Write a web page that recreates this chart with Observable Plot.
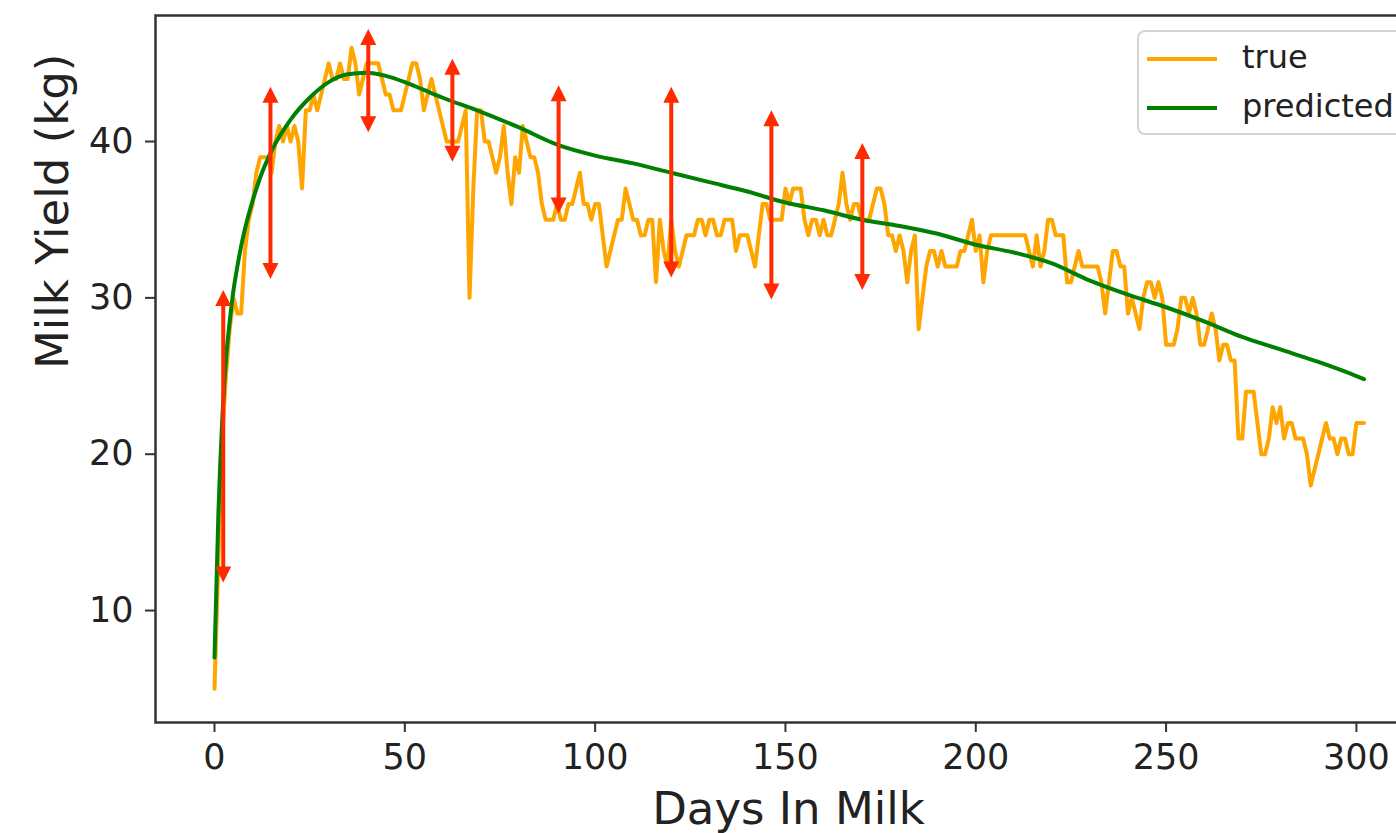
<!DOCTYPE html>
<html>
<head>
<meta charset="utf-8">
<script src="https://cdn.jsdelivr.net/npm/d3@7"></script>
<script src="https://cdn.jsdelivr.net/npm/@observablehq/plot@0.6"></script>
<style>
  html, body { margin: 0; padding: 0; background: #fff; overflow: hidden; }
  #wrap { position: relative; width: 1396px; height: 833px; overflow: hidden; font-family: "DejaVu Sans", sans-serif; }
  #wrap svg { max-width: none !important; display: block; }
  .legend { position: absolute; left: 1137px; top: 30px; width: 300px; height: 101px;
            border: 2px solid #d4d4d4; border-radius: 8px; background: rgba(255,255,255,0.85); }
  .legend .sw { position: absolute; left: 8px; width: 70px; height: 4px; }
  .legend .lb { position: absolute; left: 103px; font-size: 32px; color: #222; line-height: 1; white-space: nowrap; }
</style>
</head>
<body>
<div id="wrap"></div>
<script>
// Daily milk yield (kg) for days in milk 0..302
const trueYield = [
  5, 13, 21, 25, 28, 30, 29, 29, 33, 35,
  36, 38, 39, 39, 39, 38, 40, 41, 40, 41,
  40, 41, 40, 37, 42, 42, 43, 42, 43, 44,
  45, 44, 44, 45, 44, 44, 46, 45, 43, 44,
  45, 45, 45, 45, 44, 43, 43, 42, 42, 42,
  43, 44, 45, 45, 44, 42, 43, 44, 43, 42,
  41, 40, 40, 40, 40, 41, 42, 30, 37, 42,
  42, 40, 40, 39, 38, 39, 41, 38, 36, 39,
  38, 41, 40, 39, 39, 38, 36, 35, 35, 35,
  36, 35, 35, 36, 36, 37, 38, 36, 36, 35,
  36, 36, 34, 32, 33, 34, 35, 35, 37, 36,
  35, 35, 34, 34, 35, 35, 31, 35, 33, 32,
  35, 33, 32, 33, 34, 34, 34, 35, 35, 34,
  35, 35, 34, 34, 35, 35, 35, 33, 34, 34,
  34, 33, 32, 34, 36, 36, 35, 35, 35, 35,
  37, 36, 37, 37, 37, 35, 34, 35, 35, 34,
  35, 34, 34, 35, 36, 38, 36, 35, 36, 36,
  35, 35, 35, 36, 37, 37, 36, 34, 34, 33,
  34, 33, 31, 33, 34, 28, 30, 32, 33, 33,
  32, 33, 32, 32, 32, 32, 33, 33, 34, 35,
  33, 34, 31, 33, 34, 34, 34, 34, 34, 34,
  34, 34, 34, 34, 33, 32, 34, 32, 33, 35,
  35, 34, 34, 34, 31, 31, 32, 33, 32, 32,
  32, 32, 32, 31, 29, 31, 33, 33, 32, 32,
  29, 30, 29, 28, 30, 31, 31, 30, 31, 30,
  27, 27, 27, 28, 30, 30, 29, 30, 29, 27,
  27, 28, 29, 28, 26, 27, 27, 26, 26, 21,
  21, 24, 24, 24, 22, 20, 20, 21, 23, 22,
  23, 21, 22, 22, 21, 21, 21, 20, 18, 19,
  20, 21, 22, 21, 21, 20, 21, 21, 20, 20,
  22, 22, 22
];

// Model prediction, sampled along the lactation
const predDays  = [0, 1, 2, 3, 4, 5, 6, 7, 8, 10, 12, 15, 20, 25, 30, 35, 40, 45, 50, 55, 60, 70, 80, 90, 100, 110, 120, 130, 140, 150, 160, 170, 180, 190, 200, 210, 220, 230, 240, 250, 260, 270, 280, 290, 300, 302];
const predYield = [7, 16, 22, 26, 28.5, 30.5, 32, 33.3, 34.4, 36.2, 37.7, 39.4, 41.4, 42.8, 43.8, 44.3, 44.4, 44.2, 43.8, 43.3, 42.8, 41.9, 40.9, 39.8, 39.1, 38.6, 38.0, 37.4, 36.8, 36.1, 35.6, 35.0, 34.6, 34.1, 33.4, 32.9, 32.2, 31.1, 30.2, 29.4, 28.5, 27.5, 26.7, 25.9, 25.0, 24.8];

// Double-headed red arrows: day, lower end, upper end
const arrowDays   = [2.3, 14.7, 40.4, 62.5, 90.4, 120, 146.3, 170.2];
const arrowBottom = [11.8, 31.2, 40.6, 38.7, 35.4, 31.3, 29.9, 30.5];
const arrowTop    = [30.5, 43.5, 47.2, 45.3, 43.6, 43.5, 42.0, 39.9];

const xTicks = [0, 50, 100, 150, 200, 250, 300];
const yTicks = [10, 20, 30, 40];

const seriesNames = ["true", "predicted"];
const seriesColors = ["orange", "green"];
const arrowColor = "#ff2a00";

const trueData = trueYield.map((v, i) => ({day: i, value: v}));
const predData = predDays.map((d, i) => ({day: d, value: predYield[i]}));
const arrows = arrowDays.map((d, i) => ({day: d, lo: arrowBottom[i], hi: arrowTop[i]}));

// Filled arrowheads with the tip at the symbol origin
const upHead = {draw(ctx) { ctx.moveTo(0, 0); ctx.lineTo(8, 16); ctx.lineTo(-8, 16); ctx.closePath(); }};
const downHead = {draw(ctx) { ctx.moveTo(0, 0); ctx.lineTo(8, -16); ctx.lineTo(-8, -16); ctx.closePath(); }};

const chart = Plot.plot({
  width: 1440,
  height: 833,
  marginLeft: 155,
  marginRight: 19,
  marginTop: 15,
  marginBottom: 111,
  style: {fontFamily: "DejaVu Sans, sans-serif", color: "#222", background: "transparent", maxWidth: "none"},
  x: {domain: [-15.5, 317.1]},
  y: {domain: [2.84, 48.06]},
  marks: [
    Plot.axisX({ticks: xTicks, tickSize: 10, tickPadding: 12, fontSize: 35, label: null, strokeWidth: 2, stroke: "#333"}),
    Plot.axisY({ticks: yTicks, tickSize: 10, tickPadding: 12, fontSize: 35, label: null, strokeWidth: 2, stroke: "#333"}),
    Plot.text(["Days In Milk"], {text: d => d, frameAnchor: "bottom", dy: 101, lineAnchor: "bottom", fontSize: 45, fill: "#222"}),
    Plot.text(["Milk Yield (kg)"], {text: d => d, frameAnchor: "left", dx: -88, rotate: -90, lineAnchor: "bottom", fontSize: 45, fill: "#222"}),
    Plot.line(trueData, {x: "day", y: "value", stroke: seriesColors[0], strokeWidth: 4}),
    Plot.line(predData, {x: "day", y: "value", stroke: seriesColors[1], strokeWidth: 4, curve: "monotone-x"}),
    // shaft: y1 is the upper end so the insets pull both ends under the heads
    Plot.ruleX(arrows, {x: "day", y1: "hi", y2: "lo", stroke: arrowColor, strokeWidth: 4, insetTop: 8, insetBottom: 8}),
    Plot.dot(arrows, {x: "day", y: "hi", symbol: upHead, r: 8, fill: arrowColor, stroke: null}),
    Plot.dot(arrows, {x: "day", y: "lo", symbol: downHead, r: 8, fill: arrowColor, stroke: null}),
    Plot.frame({stroke: "#333", strokeWidth: 2.5})
  ]
});

const wrap = document.getElementById("wrap");
wrap.appendChild(chart);

// Legend box drawn inside the plot area, upper right
const legend = document.createElement("div");
legend.className = "legend";
seriesNames.forEach((name, i) => {
  const sw = document.createElement("div");
  sw.className = "sw";
  sw.style.background = seriesColors[i];
  sw.style.top = (i === 0 ? 25 : 74) + "px";
  legend.appendChild(sw);
  const lb = document.createElement("div");
  lb.className = "lb";
  lb.textContent = name;
  lb.style.top = (i === 0 ? 9 : 58) + "px";
  legend.appendChild(lb);
});
wrap.appendChild(legend);
</script>
</body>
</html>
